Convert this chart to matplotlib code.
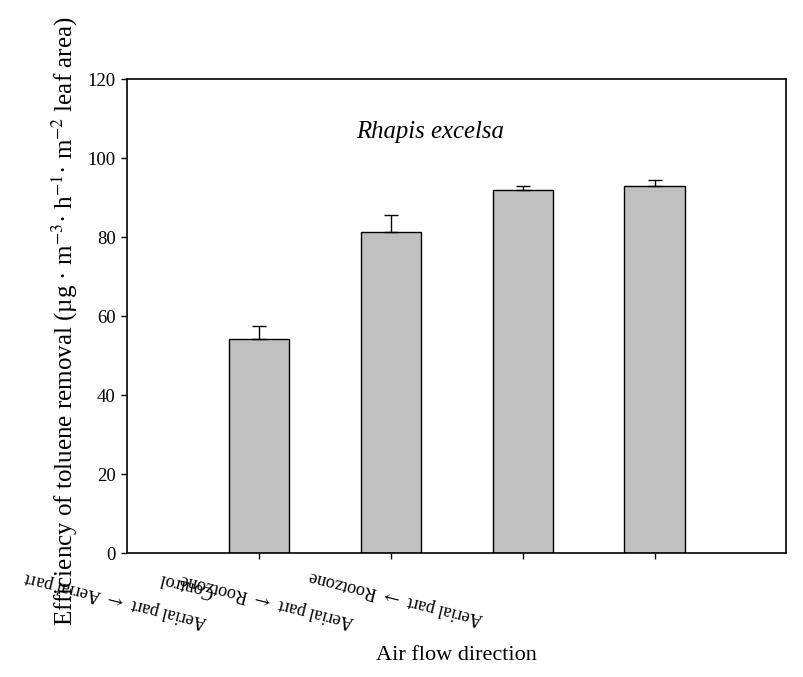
import numpy as np
import matplotlib
matplotlib.use("Agg")
import matplotlib.pyplot as plt
from matplotlib.transforms import ScaledTranslation

# ── data ─────────────────────────────────────────────────────────────────────
categories = ["Control",
              r"Aerial part $\leftarrow$ Aerial part",
              r"Aerial part $\leftarrow$ Rootzone",
              r"Aerial part $\rightarrow$ Rootzone"]
efficiency = [54.2, 81.3, 91.9, 92.9]
errors     = [3.3, 4.3, 1.0, 1.5]
yticks     = [0, 20, 40, 60, 80, 100, 120]
species    = "Rhapis excelsa"

plt.rcParams["font.family"] = ["Liberation Serif", "DejaVu Serif"]
plt.rcParams["mathtext.fontset"] = "stix"

DPI = 100
fig = plt.figure(figsize=(8.04, 6.77), dpi=DPI)
ax = fig.add_axes([0.1583, 0.1827, 0.978 - 0.1583, 0.8829 - 0.1827])

x = np.arange(1, len(categories) + 1)
ax.bar(x, efficiency, width=0.456, color="#c0c0c0", edgecolor="black",
       linewidth=1.0, zorder=2)
ax.errorbar(x, efficiency, yerr=[np.zeros(len(errors)), errors], fmt="none",
            ecolor="black", elinewidth=1.0, capsize=5, capthick=1.0, zorder=3)

ax.set_xlim(0, 5)
ax.set_ylim(0, 120)
ax.set_yticks(yticks)
ax.tick_params(axis="y", direction="out", length=4.3, width=1.0,
               labelsize=13.5, pad=4)
for s in ax.spines.values():
    s.set_linewidth(1.2)

# rotated, shifted category labels (upside-down as in the source figure)
ax.set_xticks(x)
ax.set_xticklabels(categories, rotation=166, rotation_mode="anchor",
                   ha="left", va="center", fontsize=13.1)
ax.tick_params(axis="x", direction="out", length=4.3, width=1.0, pad=0)
shifts = [(-46, 32), (-183, 63), (-168, 63), (-171, 60)]   # pixels
for lab, (dx, dy) in zip(ax.get_xticklabels(), shifts):
    lab.set_transform(lab.get_transform() +
                      ScaledTranslation(dx / DPI, -dy / DPI, fig.dpi_scale_trans))

ax.text(0.459, 0.889, species, transform=ax.transAxes, ha="center",
        va="center", fontsize=17.8, style="italic")

ax.set_xlabel("Air flow direction", fontsize=16)
ax.xaxis.set_label_coords(0.499, -0.196)
ax.set_ylabel(r"Efficiency of toluene removal (µg · m$^{-3}$· h$^{-1}$· m$^{-2}$ leaf area)",
              fontsize=18)
ax.yaxis.set_label_coords(-0.072, 0.49)

fig.savefig("out.png", dpi=DPI)
